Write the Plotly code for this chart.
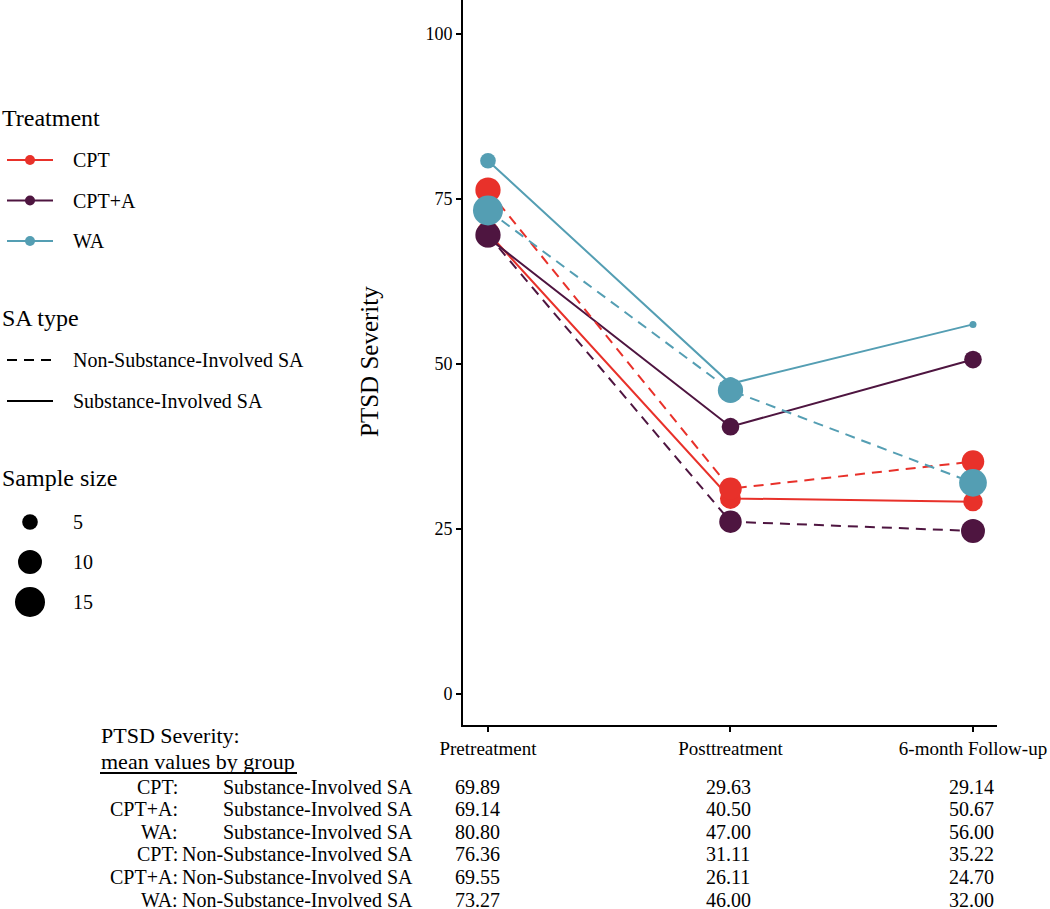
import math
import plotly.graph_objects as go

# ---------------- data ----------------
timepoints = ["Pretreatment", "Posttreatment", "6-month Follow-up"]
treatments = ["CPT", "CPT+A", "WA"]
sa_types = ["Non-Substance-Involved SA", "Substance-Involved SA"]

# mean PTSD severity
cpt_sub = [69.89, 29.63, 29.14]
cpta_sub = [69.14, 40.50, 50.67]
wa_sub = [80.80, 47.00, 56.00]
cpt_non = [76.36, 31.11, 35.22]
cpta_non = [69.55, 26.11, 24.70]
wa_non = [73.27, 46.00, 32.00]

# sample sizes
n_cpt_sub = [9, 8, 7]
n_cpta_sub = [7, 6, 6]
n_wa_sub = [5, 4, 2]
n_cpt_non = [11, 9, 9]
n_cpta_non = [11, 9, 10]
n_wa_non = [15, 11, 13]

size_breaks = [5, 10, 15]
y_ticks = [0, 25, 50, 75, 100]

# ---------------- style ----------------
FONT = "Liberation Serif"
colors = {"CPT": "#E8312A", "CPT+A": "#4E1540", "WA": "#549EB3"}
dashes = {"Non-Substance-Involved SA": "10px,7px", "Substance-Involved SA": "solid"}
W, H = 1050, 909


def diam(n):
    # area-proportional size scale (like ggplot scale_size)
    return math.sqrt(max(65.5 * n - 82, 16))


def px(x):
    return x / W


def py(y):
    return 1 - y / H


groups = [
    ("CPT", "Substance-Involved SA", cpt_sub, n_cpt_sub),
    ("CPT+A", "Substance-Involved SA", cpta_sub, n_cpta_sub),
    ("WA", "Substance-Involved SA", wa_sub, n_wa_sub),
    ("CPT", "Non-Substance-Involved SA", cpt_non, n_cpt_non),
    ("CPT+A", "Non-Substance-Involved SA", cpta_non, n_cpta_non),
    ("WA", "Non-Substance-Involved SA", wa_non, n_wa_non),
]

x_idx = list(range(len(timepoints)))

fig = go.Figure()
for tr, sa, vals, ns in groups:
    fig.add_trace(go.Scatter(
        x=x_idx, y=vals, mode="lines",
        line=dict(color=colors[tr], width=2, dash=dashes[sa]),
        showlegend=False, hoverinfo="skip"))
for tr, sa, vals, ns in groups:
    fig.add_trace(go.Scatter(
        x=x_idx, y=vals, mode="markers",
        marker=dict(color=colors[tr], size=[diam(n) for n in ns],
                    line=dict(width=0), opacity=1),
        name=f"{tr}: {sa}", showlegend=False))

# ---------------- axes ----------------
x0_px, x1_px = 463, 997
y_bottom_px = 725
fig.update_layout(
    width=W, height=H, autosize=False,
    margin=dict(l=0, r=0, t=0, b=0, autoexpand=False),
    paper_bgcolor="white", plot_bgcolor="white",
    font=dict(family=FONT, color="black"),
    xaxis=dict(domain=[px(x0_px), px(x1_px)], range=[-0.103, 2.099],
               tickvals=x_idx, ticktext=timepoints, showgrid=False, zeroline=False,
               showline=True, linecolor="black", linewidth=2, automargin=False,
               ticks="outside", ticklen=5, tickwidth=1.5, tickcolor="black",
               tickfont=dict(family=FONT, size=19, color="black")),
    yaxis=dict(domain=[py(y_bottom_px), 1], range=[-4.7, 105.15],
               tickvals=y_ticks, showgrid=False, zeroline=False,
               showline=True, linecolor="black", linewidth=2, automargin=False,
               ticks="outside", ticklen=5, tickwidth=1.5, tickcolor="black",
               tickfont=dict(family=FONT, size=18, color="black")),
)

annotations = []
shapes = []

# y-axis title
annotations.append(dict(text="PTSD Severity", xref="paper", yref="paper",
                        x=px(369), y=py(362), xanchor="center", yanchor="middle",
                        textangle=-90, showarrow=False,
                        font=dict(family=FONT, size=25, color="black")))

# ---------------- manual legend ----------------
KEY_X0, KEY_X1, KEY_MID, LABEL_X = 7, 53, 30, 71
TITLE_SIZE, LABEL_SIZE = 24, 20


def leg_title(text, y):
    annotations.append(dict(text=text, xref="paper", yref="paper", x=0, y=py(y),
                            xanchor="left", yanchor="middle", showarrow=False,
                            font=dict(family=FONT, size=TITLE_SIZE, color="black")))


def leg_label(text, y):
    annotations.append(dict(text=text, xref="paper", yref="paper", x=px(LABEL_X), y=py(y),
                            xanchor="left", yanchor="middle", showarrow=False,
                            font=dict(family=FONT, size=LABEL_SIZE, color="black")))


def circle(xc, yc, d, color):
    r = d / 2
    shapes.append(dict(type="circle", xref="paper", yref="paper",
                       xsizemode="pixel", ysizemode="pixel",
                       xanchor=px(xc), yanchor=py(yc),
                       x0=-r, x1=r, y0=-r, y1=r,
                       fillcolor=color, line=dict(width=0)))


def keyline(y, color, dash):
    shapes.append(dict(type="line", xref="paper", yref="paper",
                       x0=px(KEY_X0), x1=px(KEY_X1), y0=py(y), y1=py(y),
                       line=dict(color=color, width=2, dash=dash)))


leg_title("Treatment", 118)
for i, tr in enumerate(treatments):
    y = 160 + 40.5 * i
    keyline(y, colors[tr], "solid")
    circle(KEY_MID, y, 10, colors[tr])
    leg_label(tr, y)

leg_title("SA type", 318)
for i, sa in enumerate(sa_types):
    y = 360 + 41 * i
    keyline(y, "black", dashes[sa])
    leg_label(sa, y)

leg_title("Sample size", 478)
for i, b in enumerate(size_breaks):
    y = 522 + 40 * i
    circle(KEY_MID, y, diam(b), "black")
    leg_label(str(b), y)

# ---------------- table of means ----------------
TABLE_SIZE = 20
HEAD_SIZE = 22
annotations.append(dict(text="PTSD Severity:", xref="paper", yref="paper",
                        x=px(99), y=py(735), xanchor="left", yanchor="middle",
                        showarrow=False, font=dict(family=FONT, size=HEAD_SIZE, color="black")))
annotations.append(dict(text="mean values by group", xref="paper", yref="paper",
                        x=px(99), y=py(761), xanchor="left", yanchor="middle",
                        showarrow=False, font=dict(family=FONT, size=HEAD_SIZE, color="black")))
shapes.append(dict(type="line", xref="paper", yref="paper",
                   x0=px(100), x1=px(297), y0=py(773), y1=py(773),
                   line=dict(color="black", width=2)))

col_centers = [477, 728, 971]
row_order = [
    ("CPT", "Substance-Involved SA", cpt_sub),
    ("CPT+A", "Substance-Involved SA", cpta_sub),
    ("WA", "Substance-Involved SA", wa_sub),
    ("CPT", "Non-Substance-Involved SA", cpt_non),
    ("CPT+A", "Non-Substance-Involved SA", cpta_non),
    ("WA", "Non-Substance-Involved SA", wa_non),
]
for i, (tr, sa, vals) in enumerate(row_order):
    y = 786.5 + 22.6 * i
    f = dict(family=FONT, size=TABLE_SIZE, color="black")
    annotations.append(dict(text=tr + ":", xref="paper", yref="paper", x=px(180), y=py(y),
                            xanchor="right", yanchor="middle", showarrow=False, font=f))
    annotations.append(dict(text=sa, xref="paper", yref="paper", x=px(415), y=py(y),
                            xanchor="right", yanchor="middle", showarrow=False, font=f))
    for c, v in zip(col_centers, vals):
        annotations.append(dict(text=f"{v:.2f}", xref="paper", yref="paper", x=px(c), y=py(y),
                                xanchor="center", yanchor="middle", showarrow=False, font=f))

fig.update_layout(annotations=annotations, shapes=shapes)

fig.write_html("out.html", config={"displayModeBar": False},
               post_script="document.body.style.margin='0';document.body.style.overflow='hidden';")
